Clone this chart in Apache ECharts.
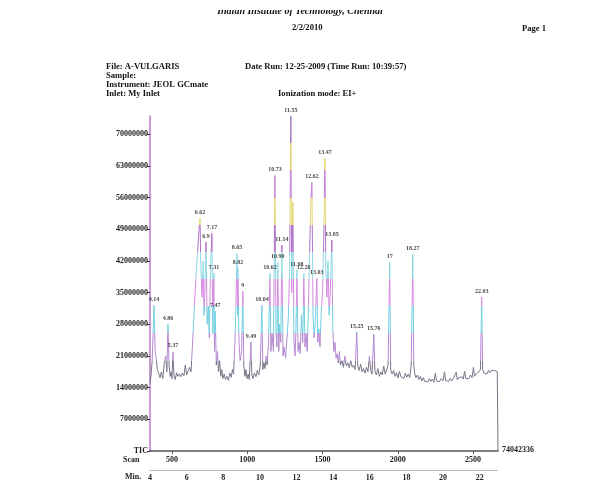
<!DOCTYPE html>
<html><head><meta charset="utf-8">
<script src="https://cdn.jsdelivr.net/npm/echarts@6/dist/echarts.min.js"></script>
<style>html,body{margin:0;padding:0;background:#fff;}#c{width:600px;height:503px;}</style>
</head><body><div id="c"></div>
<script>
// ---- DATA (intensities in millions of counts, time in minutes) ----
const traceTime = [4.00,4.05,4.12,4.22,4.28,4.34,4.40,4.47,4.55,4.62,4.70,4.78,4.86,4.92,4.98,5.04,5.10,5.16,5.20,5.25,5.31,5.38,5.45,5.52,5.60,5.68,5.76,5.85,5.93,6.00,6.08,6.16,6.24,6.30,6.40,6.50,6.60,6.66,6.73,6.78,6.84,6.90,6.95,7.00,7.06,7.12,7.18,7.24,7.30,7.38,7.43,7.49,7.52,7.56,7.62,7.68,7.74,7.80,7.86,7.92,7.98,8.05,8.12,8.20,8.28,8.36,8.44,8.50,8.56,8.62,8.68,8.75,8.78,8.80,8.86,8.92,9.00,9.07,9.12,9.18,9.24,9.30,9.36,9.42,9.51,9.56,9.62,9.70,9.78,9.86,9.94,10.02,10.11,10.16,10.22,10.28,10.34,10.40,10.47,10.55,10.60,10.66,10.74,10.82,10.88,10.93,10.98,11.03,11.08,11.14,11.20,11.26,11.32,11.40,11.48,11.56,11.62,11.69,11.74,11.80,11.86,11.92,11.97,12.02,12.08,12.14,12.20,12.27,12.34,12.40,12.46,12.52,12.58,12.64,12.72,12.78,12.84,12.90,12.96,13.02,13.11,13.16,13.22,13.28,13.34,13.42,13.50,13.55,13.60,13.66,13.72,13.78,13.84,13.93,13.98,14.04,14.10,14.16,14.22,14.28,14.34,14.40,14.48,14.56,14.64,14.72,14.80,14.88,14.96,15.04,15.12,15.20,15.29,15.34,15.42,15.50,15.58,15.66,15.74,15.82,15.90,15.98,16.05,16.12,16.22,16.28,16.36,16.44,16.52,16.60,16.68,16.76,16.84,16.92,17.00,17.09,17.14,17.22,17.30,17.38,17.46,17.54,17.62,17.70,17.78,17.86,17.94,18.02,18.10,18.18,18.26,18.35,18.40,18.46,18.52,18.60,18.68,18.76,18.84,18.92,19.00,19.10,19.18,19.26,19.34,19.42,19.50,19.58,19.64,19.72,19.80,19.90,20.00,20.08,20.14,20.22,20.30,20.40,20.48,20.56,20.64,20.72,20.78,20.86,20.94,21.02,21.10,21.18,21.24,21.32,21.40,21.50,21.58,21.66,21.72,21.80,21.88,21.96,22.04,22.11,22.16,22.24,22.32,22.40,22.48,22.56,22.64,22.72,22.80,22.88,22.96,23.00,23.00];
const traceTIC = [15.0,16.5,20,32.2,22,20.5,18,17.2,16.2,17.5,16,19.5,21,17.5,28.0,19,16.5,17.5,16,21.9,16.8,15.8,17.3,16.5,17,16.4,17.2,16.6,19,16.8,17,18.5,17.5,22,30,38,44,48,51.5,40,34,42,30,36,46.2,28,32,25,40,48.1,26,39.3,22,30.9,19,22,17.5,20,16.5,18,16,17,15.8,16.5,15.6,17.2,16.3,18,17,22,30,43.7,30,40.4,24,20,22,35.3,19,16.5,18,16,17,15.8,24.1,16.8,16,17.2,16.4,17.8,16.8,19,32.2,18,19.5,18.2,21,19,24,39.3,22,26,22,60.9,26,23,41.7,22,28,24,45.5,21,23,20.5,25,30,40,74.0,35,55,24,21,27,40.0,22,24,21.5,30,24,39.3,23,26,22,30,45,55,59.4,30,25,28,38.2,24,27,23,30,35,50,64.7,40,34,42,30,35,46.6,27,22,24,20.5,21.5,19.5,22,19,20,18.5,21,18.8,19.5,18.4,20,18.5,19,18,26.3,19,17.8,19.2,17.5,18.2,17.2,18.5,17.5,21,17.8,17,25.8,17.5,16.8,18.2,16.5,17.5,16.8,18.8,17,16.6,19,41.7,18,17,17.8,16.5,17.3,16.2,17.6,16.4,16.8,16,17.2,16.3,17,16.2,19,43.5,19,17,16.2,16.8,15.8,16.5,15.5,16.2,15.4,15.8,15.3,16,15.4,15.9,15.2,17.2,15.5,15.9,15.3,16,15.5,17.5,15.6,16,15.4,16.1,15.5,16,15.6,17.4,15.7,16.2,15.8,16.4,15.9,17.6,16,16.4,16,16.8,16.2,18.5,16.5,17,16.6,17.5,18,34.0,18,17.2,17.6,17,17.8,17.3,17.8,17.4,17.8,17.5,17.6,17.6,0];
const peakLabels = ['4.14','4.86','5.37','6.62','6.9','7.17','7.31','7.47','8.65','8.82','9','9.49','10.04','10.62','10.73','10.90','11.14','11.55','11.98','12.26','12.62','13.03','13.47','13.85','15.25','15.76','17','18.27','22.03'];
const peakTimes = [4.22,4.98,5.25,6.73,7.06,7.38,7.49,7.56,8.75,8.80,9.07,9.51,10.11,10.55,10.82,10.98,11.20,11.69,12.02,12.40,12.84,13.11,13.55,13.93,15.29,16.22,17.09,18.35,22.11];
const peakValues = [32.2,28.0,21.9,51.5,46.2,48.1,39.3,30.9,43.7,40.4,35.3,24.1,32.2,39.3,60.9,41.7,45.5,74.0,40.0,39.3,59.4,38.2,64.7,46.6,26.3,25.8,41.7,43.5,34.0];
const yTicks = [0,7,14,21,28,35,42,49,56,63,70];
const scanTicks = [500,1000,1500,2000,2500];
const minTicks = [4,6,8,10,12,14,16,18,20,22];
const maxTIC = 74.042336;
const maxTICLabel = '74042336';
const scanRange = [354, 2666];
const timeRange = [4, 23];

const serif = '"Liberation Serif", "DejaVu Serif", serif';
const chart = echarts.init(document.getElementById('c'));
const traceData = traceTime.map((t,i)=>[t, traceTIC[i]]);
const peakData = peakTimes.map((t,i)=>({name: peakLabels[i], value:[t, peakValues[i]]}));

const hdr = (text, x, y, extra) => Object.assign({type:'text', left:x, top:y, style:{text, font:'bold 8.6px '+serif, fill:'#111'}}, extra||{});

chart.setOption({
  animation:false,
  backgroundColor:'#fff',
  grid:{left:150, right:102, top:116, bottom:52},
  xAxis:[
    {type:'value', min:scanRange[0], max:scanRange[1], position:'bottom',
     axisLine:{show:true, lineStyle:{color:'#555', width:1.5}},
     axisTick:{show:true, length:3, customValues:scanTicks, lineStyle:{color:'#555'}},
     axisLabel:{customValues:scanTicks, margin:5, fontSize:8, fontWeight:'bold', fontFamily:serif, color:'#222',
       formatter:v=>String(v)},
     splitLine:{show:false}},
    {type:'value', min:timeRange[0], max:timeRange[1], interval:2, position:'bottom', offset:19,
     axisLine:{show:true, lineStyle:{color:'#aaa', type:'dotted', width:1}},
     axisTick:{show:false},
     axisLabel:{margin:4, fontSize:8, fontWeight:'bold', fontFamily:serif, color:'#222', showMaxLabel:false,
       formatter:v=>String(v)},
     splitLine:{show:false}}
  ],
  yAxis:{type:'value', min:0, max:maxTIC, interval:7,
    axisLine:{show:true, lineStyle:{color:'#b77cc8', width:1.5}},
    axisTick:{show:true, length:3, lineStyle:{color:'#333'}},
    axisLabel:{margin:2, fontSize:8, fontWeight:'bold', fontFamily:serif, color:'#222', showMaxLabel:false,
      formatter:v=> v===0 ? 'TIC' : String(Math.round(v*1e6))},
    splitLine:{show:false}},
  visualMap:{show:false, type:'piecewise', seriesIndex:0, dimension:1,
    pieces:[
      {lt:20, color:'#7a7488'},
      {gte:20, lt:26, color:'#b48ad0'},
      {gte:26, lt:32, color:'#72cfe0'},
      {gte:32, lt:38, color:'#d58be0'},
      {gte:38, lt:44, color:'#8fd8e4'},
      {gte:44, lt:50, color:'#b070c8'},
      {gte:50, lt:56, color:'#e4d774'},
      {gte:56, lt:62, color:'#c47ed6'},
      {gte:62, lt:68, color:'#e2d56c'},
      {gte:68, color:'#a07ac4'}
    ]},
  series:[
    {type:'line', xAxisIndex:1, data:traceData, showSymbol:false, lineStyle:{width:1}, z:2},
    {type:'scatter', xAxisIndex:1, data:peakData, symbolSize:0, z:3,
     label:{show:true, position:'top', distance:3, formatter:'{b}', fontSize:6, fontWeight:'bold', fontFamily:serif, color:'#111'}}
  ],
  graphic:[
    {type:'text', left:'center', top:6, style:{text:'Indian Institute of Technology, Chennai', font:'italic bold 10px '+serif, fill:'#111'}},
    {type:'rect', left:0, top:0, shape:{width:600, height:10}, style:{fill:'#fff'}, z:100},
    hdr('2/2/2010', 292, 23),
    hdr('Page 1', 522, 24),
    hdr('File: A-VULGARIS', 106, 62),
    hdr('Sample:', 106, 71),
    hdr('Instrument: JEOL GCmate', 106, 80),
    hdr('Inlet: My Inlet', 106, 89),
    hdr('Date Run: 12-25-2009 (Time Run: 10:39:57)', 245, 62),
    hdr('Ionization mode: EI+', 278, 89),
    {type:'text', left:123, top:456, style:{text:'Scan', font:'bold 8px '+serif, fill:'#222'}},
    {type:'text', left:125, top:473, style:{text:'Min.', font:'bold 8px '+serif, fill:'#222'}},
    {type:'text', left:502, top:446, style:{text:maxTICLabel, font:'bold 8px '+serif, fill:'#222'}}
  ]
});
</script></body></html>
